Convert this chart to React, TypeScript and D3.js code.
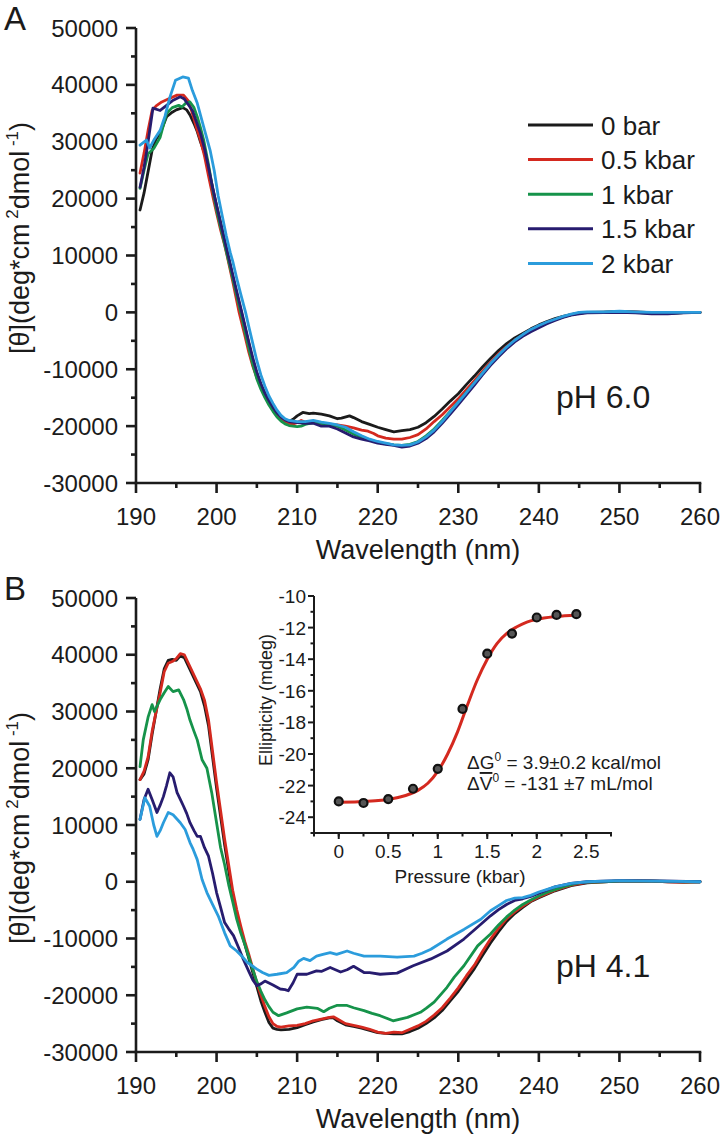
import React from 'react';
import * as d3 from 'd3';

type P = [number, number];

const FONT = "'Liberation Sans', Arial, Helvetica, sans-serif";

const seriesNames = ['0 bar', '0.5 kbar', '1 kbar', '1.5 kbar', '2 kbar'];
const seriesColors = ['#1b1b1b', '#d4291f', '#16934a', '#271c6f', '#2b9cdc'];

const wavelengthTicks = [190, 200, 210, 220, 230, 240, 250, 260];
const thetaTicks = [-30000, -20000, -10000, 0, 10000, 20000, 30000, 40000, 50000];
const pressureTicks = [0, 0.5, 1, 1.5, 2, 2.5];
const pressureTickLabels = ['0', '0.5', '1', '1.5', '2', '2.5'];
const ellipticityTicks = [-24, -22, -20, -18, -16, -14, -12, -10];

// ---------- Panel A (pH 6.0) ----------
const A_0bar: P[] = [
  [190.5, 18000], [191, 21000], [191.4, 24000], [192, 28500], [192.5, 30500], [193, 31500], [193.8, 34400],
  [194.5, 35200], [195, 35600], [195.8, 36000], [196.3, 35600], [196.7, 34700], [197.2, 33200], [197.6, 31800],
  [198, 30000], [198.5, 28000], [199, 25000], [199.5, 22000], [200, 18800], [200.5, 15800], [201, 12500],
  [201.5, 9500], [202, 6300], [202.5, 3300], [203, 500], [203.5, -2500], [204, -5500], [204.5, -8500],
  [205, -10800], [205.5, -12800], [206, -14300], [206.5, -15500], [207, -16700], [207.5, -17700], [208, -18500],
  [208.5, -19000], [209, -19200], [209.5, -18800], [210, -18200], [210.7, -17600], [211.5, -17800], [212, -17700],
  [213, -17900], [214, -18200], [215, -18700], [215.5, -18600], [216.5, -18200], [217, -18500], [218, -19200],
  [219, -19700], [220, -20200], [221, -20600], [222, -21000], [223, -20800], [224, -20600], [225, -20200],
  [226, -19400], [227, -18300], [228, -17000], [229, -15600], [230, -14300], [231, -12700], [232, -11200],
  [233, -9600], [234, -8100], [235, -6700], [236, -5500], [237, -4500], [238, -3700], [239, -2900], [240, -2200],
  [241, -1600], [242, -1100], [243, -700], [244, -400], [245, -150], [246, 0], [248, 50], [250, 150], [252, 100],
  [254, -50], [256, -100], [258, -50], [260, 0],
];
const A_05kbar: P[] = [
  [190.5, 24500], [191, 28000], [191.5, 32000], [192, 35500], [192.5, 36300], [193.2, 37000], [194, 37500],
  [195.1, 38200], [195.9, 38200], [196.5, 37200], [197, 35000], [197.5, 32500], [198, 30300], [198.5, 27500],
  [199, 24000], [199.6, 20000], [200, 17500], [200.5, 14500], [201, 11800], [201.3, 10000], [202, 5500],
  [202.8, 0], [203.5, -4000], [204, -7000], [204.5, -9500], [205, -11500], [205.5, -13000], [206, -14500],
  [206.5, -15800], [207, -17000], [207.5, -18000], [208, -18800], [208.5, -19300], [209, -19500], [209.5, -19600],
  [210, -19400], [210.5, -19000], [211, -19300], [212, -19300], [213, -19500], [214, -19800], [215, -19800],
  [216, -20000], [217, -20300], [218, -20700], [218.8, -20900], [219.5, -21300], [220, -21700], [221, -22100],
  [222, -22300], [223, -22300], [224, -22000], [225, -21500], [226, -20500], [227, -19200], [228, -18000],
  [229, -16600], [230, -15200], [231, -13600], [232, -12000], [233, -10400], [234, -8800], [235, -7300],
  [236, -6000], [237, -4900], [238, -4000], [239, -3100], [240, -2400], [241, -1800], [242, -1300], [243, -800],
  [244, -400], [245, -150], [246, 0], [248, 0], [250, 100], [252, 50], [254, -100], [256, -100], [258, -50], [260, 0],
];
const A_1kbar: P[] = [
  [190.5, 21800], [191, 25000], [191.5, 27900], [192.2, 28800], [193, 30800], [193.8, 35000], [194.5, 36000],
  [195.3, 36400], [195.7, 36100], [196.2, 36800], [196.7, 37000], [197.2, 36000], [197.6, 34400], [198, 32500],
  [198.4, 30300], [199, 26000], [199.6, 21000], [200, 18000], [200.5, 15000], [201, 12000], [201.5, 9000],
  [202, 6000], [202.5, 3000], [203, 0], [203.5, -3200], [204, -6300], [204.5, -9200], [205, -11700],
  [205.5, -13500], [206, -15000], [206.5, -16300], [207, -17400], [207.5, -18400], [208, -19100], [208.5, -19600],
  [209, -19900], [209.5, -20000], [210, -20100], [210.5, -20000], [211, -19700], [212, -19400], [213, -19500],
  [214, -19800], [215, -20000], [216, -20700], [217, -21400], [218, -21900], [219, -22400], [220, -22800],
  [221, -23100], [222, -23300], [223, -23400], [224, -23200], [225, -22700], [226, -21700], [227, -20500],
  [228, -19000], [229, -17400], [230, -15800], [231, -14100], [232, -12400], [233, -10700], [234, -9100],
  [235, -7600], [236, -6200], [237, -5000], [238, -4000], [239, -3200], [240, -2500], [241, -1900], [242, -1300],
  [243, -800], [244, -400], [245, -100], [246, 0], [248, 0], [250, 100], [252, 0], [254, -150], [256, -150],
  [258, -50], [260, 0],
];
const A_15kbar: P[] = [
  [190.5, 22000], [191, 25500], [191.4, 29000], [192.1, 35900], [193, 35500], [193.8, 36400], [194.5, 37200],
  [195.5, 37900], [196, 37500], [196.5, 36500], [197, 35500], [197.5, 33500], [198, 31500], [198.5, 28800],
  [199, 25500], [199.5, 22000], [200, 18800], [200.5, 15700], [201, 12700], [201.5, 9700], [202, 6700],
  [202.5, 3700], [203, 800], [203.5, -2200], [204, -5200], [204.5, -8000], [205, -10500], [205.5, -12500],
  [206, -14200], [206.5, -15500], [207, -16700], [207.5, -17700], [208, -18400], [208.5, -18900], [209, -19200],
  [210, -19400], [211, -19500], [212, -19500], [213, -20000], [214, -20000], [215, -20500], [216, -21200],
  [217, -21900], [218, -22300], [219, -22600], [220, -23000], [221, -23200], [222, -23400], [223, -23700],
  [224, -23500], [225, -23000], [226, -22200], [227, -21000], [228, -19500], [229, -17900], [230, -16200],
  [231, -14500], [232, -12800], [233, -11000], [234, -9300], [235, -7800], [236, -6400], [237, -5200],
  [238, -4200], [239, -3400], [240, -2700], [241, -2000], [242, -1400], [243, -900], [244, -500], [245, -250],
  [246, -100], [248, -50], [250, 0], [252, -100], [254, -250], [256, -250], [258, -100], [260, 0],
];
const A_2kbar: P[] = [
  [190.5, 29400], [191.3, 30300], [191.7, 28900], [192.3, 30500], [193, 32000], [193.6, 34500], [194.2, 37800],
  [194.9, 40800], [195.8, 41400], [196.5, 41200], [197, 39000], [197.6, 36800], [198.4, 32600], [199.2, 28500],
  [199.7, 25000], [200.2, 20500], [200.7, 17000], [201.2, 13500], [201.7, 10500], [202, 9000], [202.5, 6000],
  [203, 3200], [203.6, 0], [204, -2500], [204.5, -5500], [205, -8500], [205.5, -11000], [206, -13000],
  [206.5, -14700], [207, -16000], [207.5, -17200], [208, -18100], [208.5, -18700], [209, -19000], [210, -19200],
  [211, -19200], [212, -19000], [213, -19300], [214, -19500], [215, -19800], [216, -20200], [217, -21000],
  [218, -21700], [219, -22300], [220, -22700], [221, -23000], [222, -23300], [223, -23400], [224, -23300],
  [225, -22800], [226, -21900], [227, -20700], [228, -19200], [229, -17500], [230, -15800], [231, -14100],
  [232, -12400], [233, -10700], [234, -9000], [235, -7500], [236, -6100], [237, -4900], [238, -3900],
  [239, -3000], [240, -2300], [241, -1700], [242, -1200], [243, -700], [244, -300], [245, 0], [246, 100],
  [248, 100], [250, 200], [252, 100], [254, 0], [256, 0], [258, 0], [260, 0],
];

// ---------- Panel B (pH 4.1) ----------
const B_0bar: P[] = [
  [190.5, 18000], [191, 19000], [191.5, 21500], [192, 26000], [192.5, 30000], [193, 34000], [193.5, 37500],
  [194, 39000], [194.5, 39200], [195, 39000], [195.5, 39800], [196, 39500], [196.5, 38000], [197, 36500],
  [197.5, 35000], [198, 33500], [198.5, 31000], [199, 27500], [199.5, 22000], [200, 16500], [200.5, 11500],
  [201, 6500], [201.5, 2000], [202, -2500], [202.5, -5800], [203, -8500], [203.5, -11000], [204, -13500],
  [204.5, -16000], [205, -18500], [205.5, -21000], [206, -23000], [206.5, -24800], [207, -25800], [207.5, -26000],
  [208, -26100], [209, -26000], [210, -25700], [211, -25200], [212, -24700], [213, -24300], [214, -24000],
  [214.5, -24000], [215, -24500], [216, -25200], [217, -25500], [218, -25800], [219, -26200], [220, -26600],
  [221, -26700], [222, -26800], [223, -26800], [224, -26400], [225, -25800], [226, -25000], [227, -24000],
  [228, -22700], [229, -21000], [230, -19300], [231, -17300], [232, -15300], [233, -13000], [234, -10800],
  [235, -8800], [236, -7000], [237, -5600], [238, -4500], [239, -3500], [240, -2800], [242, -1600], [244, -700],
  [246, -200], [248, 0], [250, 100], [252, 150], [254, 100], [256, 0], [258, -50], [260, 0],
];
const B_05kbar: P[] = [
  [190.5, 18000], [191, 19500], [191.5, 22000], [192, 26500], [192.5, 30000], [193, 33300], [193.5, 37000],
  [194, 38500], [194.5, 38800], [195, 39300], [195.5, 40200], [196, 40000], [196.5, 38500], [197, 37000],
  [197.5, 35500], [198, 34000], [198.5, 32000], [199, 28500], [199.5, 23000], [200, 17500], [200.5, 12500],
  [201, 7500], [201.5, 3000], [202, -1500], [202.5, -4900], [203, -7800], [203.5, -10500], [204, -12800],
  [204.5, -15300], [205, -17800], [205.5, -20000], [206, -22000], [206.5, -23800], [207, -25000], [207.5, -25500],
  [208, -25600], [209, -25400], [210, -25300], [211, -25000], [212, -24500], [213, -24200], [214, -23900],
  [214.5, -23800], [215, -24200], [216, -25000], [217, -25300], [218, -25600], [219, -26000], [220, -26500],
  [221, -26700], [222, -26500], [223, -26600], [224, -26000], [225, -25400], [226, -24600], [227, -23500],
  [228, -22200], [229, -20500], [230, -18700], [231, -16600], [232, -14700], [233, -12300], [234, -10100],
  [235, -8200], [236, -6500], [237, -5300], [238, -4300], [239, -3400], [240, -2700], [242, -1500], [244, -600],
  [246, -100], [248, 0], [250, 100], [252, 150], [254, 100], [256, 0], [258, -100], [260, 0],
];
const B_1kbar: P[] = [
  [190.5, 20300], [190.9, 25000], [191.5, 29000], [192, 31200], [192.3, 30000], [193, 32100], [193.5, 33300],
  [194, 34400], [194.6, 33500], [195.3, 33800], [195.9, 32100], [196.3, 30500], [196.7, 28500], [197.2, 26500],
  [197.6, 25000], [198.2, 21500], [198.8, 20000], [199.4, 15700], [200, 10400], [200.5, 6000], [201, 3000],
  [201.5, -500], [202, -3500], [202.5, -6600], [203, -9000], [203.5, -11000], [204, -13300], [204.5, -15500],
  [205, -17600], [205.5, -19300], [206, -20800], [206.5, -22000], [207, -23000], [207.7, -23600], [208.7, -23100],
  [210, -22400], [211.2, -22100], [212.5, -22300], [213.3, -22900], [214, -22300], [214.9, -21800], [216.2, -21800],
  [217, -22200], [218.3, -22700], [219.3, -23200], [220.3, -23600], [221.9, -24500], [222.8, -24200],
  [223.7, -23900], [225.3, -23000], [226, -22300], [227, -21200], [228.6, -18600], [229.5, -16800],
  [230.7, -14800], [232.4, -11300], [234, -9200], [235, -7600], [236, -6200], [237, -5000], [238, -4000],
  [239, -3200], [240, -2500], [241, -1900], [242, -1400], [243, -900], [244, -500], [245, -200], [246, -50],
  [248, 0], [250, 100], [252, 100], [254, 100], [256, 50], [258, 0], [260, 0],
];
const B_15kbar: P[] = [
  [190.5, 11000], [191, 14500], [191.5, 16300], [192, 14500], [192.6, 12200], [193, 13500], [193.4, 15000],
  [193.8, 17000], [194.2, 19200], [194.6, 18500], [195.1, 15700], [195.5, 14500], [195.9, 13300], [196.3, 12000],
  [196.7, 10400], [197.2, 9000], [197.6, 8000], [198, 8000], [198.5, 6000], [199, 4500], [199.5, 1500],
  [200, -1900], [200.5, -4500], [201, -7200], [201.5, -8300], [202.1, -9500], [202.7, -11500], [203.3, -13600],
  [204, -15800], [204.5, -17300], [205, -18300], [205.5, -18000], [206, -17500], [207, -18200], [207.9, -18900],
  [208.5, -19000], [208.9, -19200], [209.5, -17800], [210, -16300], [211.2, -16300], [212.4, -15700],
  [213, -15800], [214.1, -15100], [215.4, -15900], [216.2, -15500], [217, -14900], [218.3, -16000], [219, -16000],
  [220.3, -16300], [222.4, -16100], [224.4, -14800], [226.6, -13600], [228.6, -12200], [230.7, -10100],
  [232.8, -7500], [234, -6000], [235, -4900], [236, -4000], [237, -3300], [238, -3000], [239, -2600], [240, -2000],
  [242, -900], [244, -300], [246, 0], [250, 200], [255, 150], [260, 0],
];
const B_2kbar: P[] = [
  [190.5, 11000], [191.1, 14800], [191.7, 13300], [192.2, 10000], [192.6, 8000], [193, 9000], [193.4, 10400],
  [194, 12200], [194.6, 11800], [195.5, 10400], [196.1, 9200], [196.7, 6900], [197.1, 5700], [197.6, 3900],
  [198.2, 400], [198.8, -1900], [199.5, -4000], [200.2, -6000], [201, -9000], [201.7, -11300], [202.5, -12200],
  [203.2, -13200], [203.8, -14200], [204.4, -14800], [205, -15400], [205.7, -16000], [206.5, -16500],
  [207.5, -16300], [208.7, -16000], [209.6, -15100], [210.2, -14000], [210.8, -13500], [211.6, -13900],
  [212.4, -13100], [213.2, -12800], [214.1, -12500], [214.9, -12800], [216.2, -12200], [217, -12600],
  [218.3, -13100], [220.3, -13100], [222.4, -13300], [224.5, -13100], [225.5, -12600], [226.6, -11900],
  [228.6, -10100], [230.7, -8400], [232.8, -6600], [234, -5100], [235, -4200], [236, -3300], [237, -2900],
  [238, -2800], [239, -2400], [240, -1800], [242, -900], [244, -300], [246, 0], [250, 200], [255, 100], [260, 0],
];

// ---------- Inset ----------
const insetPressure = [0, 0.25, 0.5, 0.75, 1.0, 1.25, 1.5, 1.75, 2.0, 2.2, 2.4];
const insetEllipticity = [-23.0, -23.1, -22.85, -22.2, -20.94, -17.15, -13.65, -12.38, -11.36, -11.2, -11.15];
const fitPressure = [0, 0.2, 0.4, 0.6, 0.8, 0.9, 1.0, 1.1, 1.2, 1.3, 1.4, 1.5, 1.6, 1.7, 1.8, 1.9, 2.0, 2.2, 2.4];
const fitEllipticity = [-23.05, -23.02, -22.95, -22.75, -22.3, -21.85, -21.1, -20.0, -18.6, -16.9, -15.3, -14.0,
  -13.0, -12.35, -11.95, -11.65, -11.48, -11.3, -11.2];

const panelASeries = [A_0bar, A_05kbar, A_1kbar, A_15kbar, A_2kbar];
const panelBSeries = [B_0bar, B_05kbar, B_1kbar, B_15kbar, B_2kbar];

const AX = '#1b1b1b';

const x = d3.scaleLinear().domain([190, 260]).range([136, 700]);

function Panel({ series, top, bottom, label, ph, letter, titleCenter }: {
  series: P[][]; top: number; bottom: number; label: string; ph: string; letter: string; titleCenter: number;
}) {
  const y = d3.scaleLinear().domain([-30000, 50000]).range([bottom, top]);
  const line = d3.line<P>().x((d) => x(d[0])).y((d) => y(d[1])).curve(d3.curveLinear);
  const minorX = d3.range(195, 260, 10);
  const minorY = d3.range(-25000, 50000, 10000);
  return (
    <g>
      {series.map((s, i) => (
        <path key={i} d={line(s) || ''} fill="none" stroke={seriesColors[i]} strokeWidth={2.8}
          strokeLinejoin="round" strokeLinecap="round" />
      ))}
      {/* axes */}
      <line x1={x(190)} x2={x(190)} y1={y(-30000)} y2={y(50000)} stroke={AX} strokeWidth={2.6} />
      <line x1={x(190) - 1.3} x2={x(260) + 1.3} y1={y(-30000)} y2={y(-30000)} stroke={AX} strokeWidth={2.6} />
      {wavelengthTicks.map((t) => (
        <g key={t}>
          <line x1={x(t)} x2={x(t)} y1={y(-30000)} y2={y(-30000) + 10} stroke={AX} strokeWidth={2.6} />
          <text x={x(t)} y={y(-30000) + 42} textAnchor="middle" fontSize={24} fontFamily={FONT} fill={AX}>{t}</text>
        </g>
      ))}
      {minorX.map((t) => (
        <line key={t} x1={x(t)} x2={x(t)} y1={y(-30000)} y2={y(-30000) + 5} stroke={AX} strokeWidth={2.6} />
      ))}
      {thetaTicks.map((t) => (
        <g key={t}>
          <line x1={x(190) - 10} x2={x(190)} y1={y(t)} y2={y(t)} stroke={AX} strokeWidth={2.6} />
          <text x={x(190) - 18} y={y(t) + 8.5} textAnchor="end" fontSize={24} fontFamily={FONT} fill={AX}>{t}</text>
        </g>
      ))}
      {minorY.map((t) => (
        <line key={t} x1={x(190) - 5} x2={x(190)} y1={y(t)} y2={y(t)} stroke={AX} strokeWidth={2.6} />
      ))}
      <text x={418} y={bottom + 76} textAnchor="middle" fontSize={27} fontFamily={FONT} fill={AX}>{label}</text>
      <text transform={`translate(29,${titleCenter}) rotate(-90)`} textAnchor="middle" fontSize={27}
        fontFamily={FONT} fill={AX}>
        [θ](deg*cm
        <tspan dy={-11} fontSize={17}> 2</tspan>
        <tspan dy={11}>dmol</tspan>
        <tspan dy={-11} fontSize={17}> -1</tspan>
        <tspan dy={11}>)</tspan>
      </text>
      <text x={4} y={top + 2} fontSize={33} fontFamily={FONT} fill={AX}>{letter}</text>
      <text x={556} y={y(-30000) - 75} fontSize={32} fontFamily={FONT} fill={AX}>{ph}</text>
    </g>
  );
}

function Legend() {
  return (
    <g>
      {seriesNames.map((n, i) => {
        const yy = 125 + i * 34.6;
        return (
          <g key={n}>
            <line x1={528} x2={593} y1={yy} y2={yy} stroke={seriesColors[i]} strokeWidth={3} />
            <text x={601} y={yy + 9.5} fontSize={26} fontFamily={FONT} fill={AX}>{n}</text>
          </g>
        );
      })}
    </g>
  );
}

function Inset() {
  const xi = d3.scaleLinear().domain([-0.25, 2.75]).range([314, 611]);
  const yi = d3.scaleLinear().domain([-25, -10]).range([833, 596]);
  const fit = d3.line<number>().x((d, i) => xi(fitPressure[i])).y((d) => yi(d)).curve(d3.curveMonotoneX);
  const minorX = d3.range(-0.25, 2.76, 0.25);
  const minorY = d3.range(-25, -10, 2);
  return (
    <g>
      <path d={fit(fitEllipticity) || ''} fill="none" stroke="#d4291f" strokeWidth={3} />
      {insetPressure.map((p, i) => (
        <circle key={i} cx={xi(p)} cy={yi(insetEllipticity[i])} r={4} fill="#555" stroke="#111" strokeWidth={2.2} />
      ))}
      <line x1={xi(-0.25)} x2={xi(-0.25)} y1={yi(-25)} y2={yi(-10)} stroke={AX} strokeWidth={2} />
      <line x1={xi(-0.25) - 1} x2={xi(2.75) + 1} y1={yi(-25)} y2={yi(-25)} stroke={AX} strokeWidth={2} />
      {minorX.map((t, i) => (
        <line key={i} x1={xi(t)} x2={xi(t)} y1={yi(-25)} y2={yi(-25) + 3.5} stroke={AX} strokeWidth={2} />
      ))}
      {pressureTicks.map((t, i) => (
        <g key={t}>
          <line x1={xi(t)} x2={xi(t)} y1={yi(-25)} y2={yi(-25) + 6} stroke={AX} strokeWidth={2} />
          <text x={xi(t)} y={yi(-25) + 25} textAnchor="middle" fontSize={19} fontFamily={FONT} fill={AX}>
            {pressureTickLabels[i]}
          </text>
        </g>
      ))}
      {minorY.map((t) => (
        <line key={t} x1={xi(-0.25) - 3.5} x2={xi(-0.25)} y1={yi(t)} y2={yi(t)} stroke={AX} strokeWidth={2} />
      ))}
      {ellipticityTicks.map((t) => (
        <g key={t}>
          <line x1={xi(-0.25) - 6} x2={xi(-0.25)} y1={yi(t)} y2={yi(t)} stroke={AX} strokeWidth={2} />
          <text x={xi(-0.25) - 8} y={yi(t) + 7} textAnchor="end" fontSize={19} fontFamily={FONT} fill={AX}>{t}</text>
        </g>
      ))}
      <text x={460} y={883} textAnchor="middle" fontSize={19} fontFamily={FONT} fill={AX}>Pressure (kbar)</text>
      <text transform="translate(272,700) rotate(-90)" textAnchor="middle" fontSize={18} fontFamily={FONT}
        fill={AX}>Ellipticity (mdeg)</text>
      <text x={467} y={769} fontSize={19} fontFamily={FONT} fill={AX}>
        ΔG<tspan dy={-8} fontSize={12}>0</tspan><tspan dy={8}> = 3.9±0.2 kcal/mol</tspan>
      </text>
      <text x={467} y={790} fontSize={19} fontFamily={FONT} fill={AX}>
        Δ<tspan textDecoration="overline" style={{ textDecoration: 'overline' }}>V</tspan>
        <tspan dy={-8} fontSize={12}>0</tspan><tspan dy={8}> = -131 ±7 mL/mol</tspan>
      </text>
    </g>
  );
}

export default function App() {
  return (
    <svg width={721} height={1137} viewBox="0 0 721 1137"
      style={{ position: 'absolute', left: 0, top: 0, background: '#fff' }}>
      <rect x={0} y={0} width={721} height={1137} fill="#fff" />
      <Panel series={panelASeries} top={28} bottom={483} label="Wavelength (nm)" ph="pH 6.0" letter="A"
        titleCenter={238} />
      <Legend />
      <Panel series={panelBSeries} top={598} bottom={1052} label="Wavelength (nm)" ph="pH 4.1" letter="B"
        titleCenter={828} />
      <Inset />
    </svg>
  );
}
